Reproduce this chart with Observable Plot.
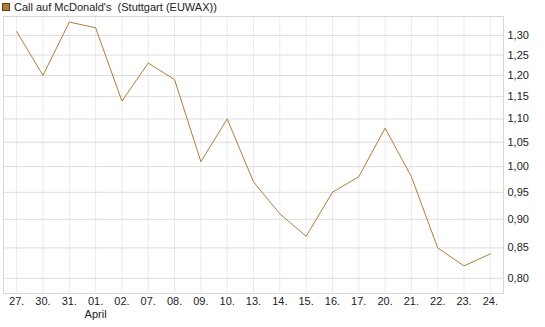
<!DOCTYPE html>
<html>
<head>
<meta charset="utf-8">
<script src="https://cdn.jsdelivr.net/npm/d3@7"></script>
<script src="https://cdn.jsdelivr.net/npm/@observablehq/plot@0.6"></script>
<style>
  html, body { margin: 0; padding: 0; background: #fff; }
  body { width: 545px; height: 327px; overflow: hidden; font-family: "Liberation Sans", Arial, sans-serif; }
  #title { height: 14px; position: relative; font-size: 11px; line-height: 14px; color: #222; white-space: pre; }
  #title .sw { position: absolute; left: 2px; top: 3px; width: 6px; height: 6px; background: #b07d3a; border: 1px solid #5a4020; }
  #title .tx { position: absolute; left: 14px; top: 0px; }
  svg { display: block; }
</style>
</head>
<body>
<div id="title"><span class="sw"></span><span class="tx">Call auf McDonald's  (Stuttgart (EUWAX))</span></div>
<div id="chart"></div>
<script>
const dates = ["27.", "30.", "31.", "01.", "02.", "07.", "08.", "09.", "10.", "13.", "14.", "15.", "16.", "17.", "20.", "21.", "22.", "23.", "24."];
const prices = [1.31, 1.20, 1.335, 1.32, 1.14, 1.23, 1.19, 1.01, 1.10, 0.97, 0.91, 0.87, 0.95, 0.98, 1.08, 0.98, 0.85, 0.82, 0.84];
const monthLabels = {"01.": "April"};
const yTicks = [0.80, 0.85, 0.90, 0.95, 1.00, 1.05, 1.10, 1.15, 1.20, 1.25, 1.30];

const data = dates.map((d, i) => ({date: d, price: prices[i]}));
const fmt = v => v.toFixed(2).replace(".", ",");

const chart = Plot.plot({
  width: 545,
  height: 313,
  marginTop: 2,
  marginBottom: 34,
  marginLeft: 3,
  marginRight: 42,
  style: {fontFamily: "'Liberation Sans', Arial, sans-serif", fontSize: "11px", color: "#222", background: "#fff"},
  x: {type: "point", domain: dates, padding: 0.5, round: false},
  y: {type: "log", domain: [0.776, 1.35], axis: null},
  marks: [
    Plot.gridX(dates, {stroke: "#ebebeb", strokeOpacity: 1}),
    Plot.gridY(yTicks, {stroke: "#dcdcdc", strokeOpacity: 1}),
    Plot.frame({stroke: "#d8d8d8"}),
    Plot.line(data, {x: "date", y: "price", stroke: "#b07d3a", strokeWidth: 1}),
    Plot.axisX(dates, {tickSize: 0, tickPadding: 3, label: null, lineHeight: 1.15,
      tickFormat: d => monthLabels[d] ? d + "\n" + monthLabels[d] : d, fill: "#222"}),
    Plot.text(yTicks, {y: d => d, frameAnchor: "right", dx: 4, textAnchor: "start", text: fmt, fill: "#222"})
  ]
});
document.getElementById("chart").appendChild(chart);
</script>
</body>
</html>
